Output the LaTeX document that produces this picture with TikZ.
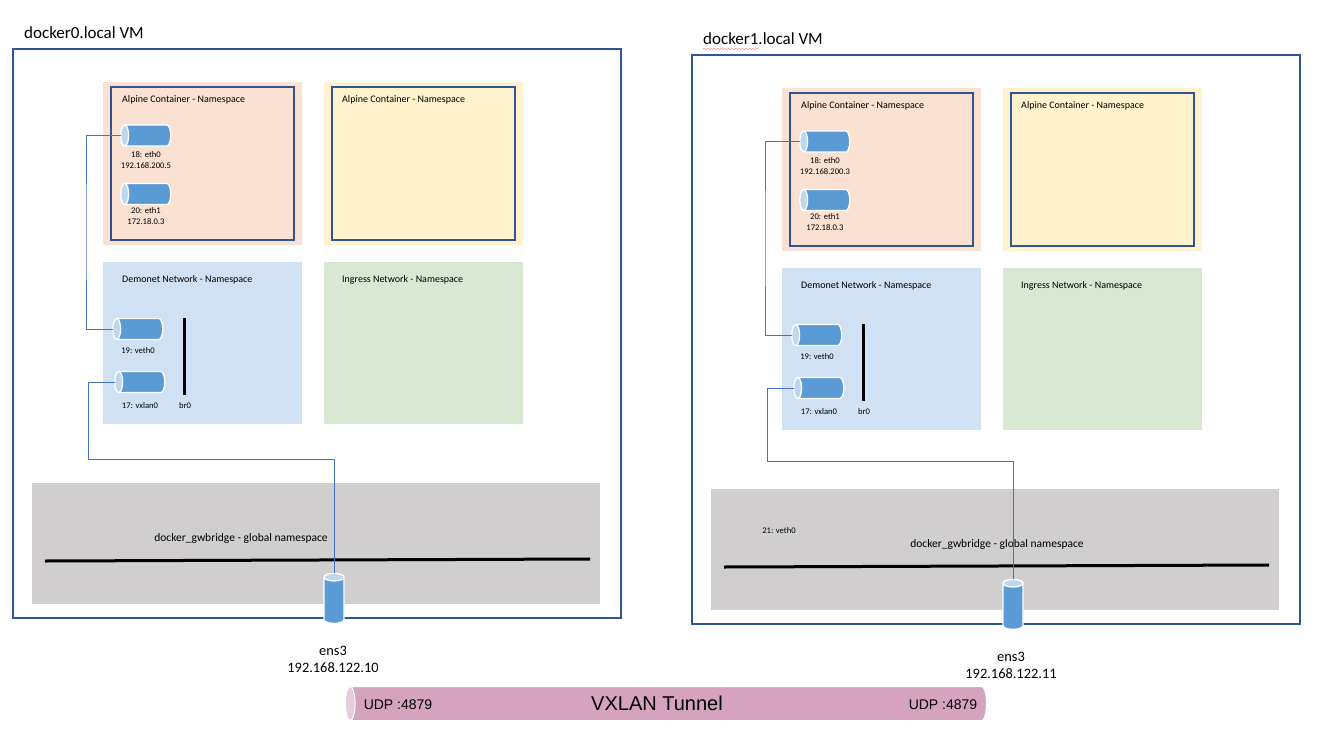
\documentclass[tikz,border=0pt]{standalone}
\usepackage{fontspec}
\setmainfont{Carlito}
\newfontfamily\arialfont{Liberation Sans}
\usetikzlibrary{positioning,shapes.geometric,decorations.pathmorphing}
\definecolor{vmline}{HTML}{2F5597}
\definecolor{wireblue}{HTML}{4472C4}
\definecolor{pipeblue}{HTML}{5B9BD5}
\definecolor{pipeend}{HTML}{BDD7EE}
\definecolor{salmonbox}{HTML}{FBE1D1}
\definecolor{yellowbox}{HTML}{FFF2CC}
\definecolor{bluebox}{HTML}{CFE1F3}
\definecolor{greenbox}{HTML}{D8E8D2}
\definecolor{graybox}{HTML}{D0CECE}
\definecolor{tunnelpink}{HTML}{D5A3BD}
\definecolor{tunnelend}{HTML}{E8CCDC}
\tikzset{
  vmbox/.style={draw=vmline,line width=1.1pt},
  innerbox/.style={draw=vmline,line width=1.1pt,anchor=north west,inner sep=0pt,outer sep=0pt,minimum width=183,minimum height=153},
  pipe/.style={cylinder,shape border rotate=180,shape aspect=0.4,draw=white,line width=1.3pt,cylinder uses custom fill,
    cylinder body fill=pipeblue,cylinder end fill=pipeend,minimum height=50,minimum width=21,inner sep=9.8pt,outer sep=0pt},
  pipeup/.style={pipe,shape border rotate=90,minimum height=50,minimum width=20,inner sep=9.4pt},
  wire/.style={draw=wireblue,line width=1pt},
  bar/.style={draw=black,line width=3pt},
  small/.style={font=\fontsize{8.6}{10}\selectfont,inner sep=0pt},
  title/.style={font=\fontsize{10}{12}\selectfont,inner sep=0pt,anchor=west},
  mid/.style={font=\fontsize{14.4}{16}\selectfont,inner sep=0pt},
  udptxt/.style={font=\arialfont\fontsize{14}{16}\selectfont,inner sep=0pt},
}
\begin{document}
\begin{tikzpicture}[x=1pt,y=-1pt]
\useasboundingbox[fill=white] (0,0) rectangle (1317,736);
\foreach \vm/\dx/\dy/\vmname/\ethip/\gwx/\ensa/\ensb/\turny in
  {a/0/0/docker0/192.168.200.5/241/333/192.168.122.10/459,
   b/679/6/docker1/192.168.200.3/318/332/192.168.122.11/455}
{
 \begin{scope}[shift={(\dx,\dy)}]
  \node[title,font=\fontsize{17}{20}\selectfont] (\vm-name) at (24,32.5) {\vmname.local VM};
  \draw[vmbox] (13,49) rectangle (621,618);
  % namespaces
  \fill[salmonbox] (103,82) rectangle (302,245);
  \fill[yellowbox] (324,82) rectangle (523,245);
  \fill[bluebox] (103,262) rectangle (302,424);
  \fill[greenbox] (324,262) rectangle (523,424);
  \fill[graybox] (32,483) rectangle (600,604);
  \node[innerbox] (\vm-alpine) at (111,87) {};
  \node[innerbox] (\vm-alpinetwo) at (332,87) {};
  \node[title] at (122,99.5) (\vm-alpinetxt) {Alpine Container - Namespace};
  \node[title] at (342,99.5) (\vm-alpinetwotxt) {Alpine Container - Namespace};
  \node[title] at (122,279.5) (\vm-demotxt) {Demonet Network - Namespace};
  \node[title] at (342,279.5) (\vm-ingresstxt) {Ingress Network - Namespace};
  % interfaces
  \node[pipe] (\vm-eth0) at (150,135.5) {};
  \node[small] (\vm-eth0txt) at (146,155) {18: eth0};
  \node[small] (\vm-eth0ip) at (146,166) {\ethip};
  \node[pipe] (\vm-eth1) at (150,194) {};
  \node[small] (\vm-eth1txt) at (146,211) {20: eth1};
  \node[small] (\vm-eth1ip) at (146,221.5) {172.18.0.3};
  \node[pipe] (\vm-veth0) at (142,329) {};
  \node[small] (\vm-veth0txt) at (138,351) {19: veth0};
  \node[pipe] (\vm-vxlan) at (144,382) {};
  \node[small] (\vm-vxlantxt) at (140,406) {17: vxlan0};
  \coordinate (\vm-brtop) at (184.5,318);
  \coordinate (\vm-brbot) at (184.5,395);
  \draw[bar] (\vm-brtop) -- (\vm-brbot);
  \node[small] (\vm-brtxt) at (185,406) {br0};
  % bridge
  \coordinate (\vm-gwleft) at (45,561);
  \coordinate (\vm-gwright) at (590,559);
  \draw[bar] (\vm-gwleft) -- (\vm-gwright);
  \node[font=\fontsize{11.5}{14}\selectfont,inner sep=0pt] (\vm-gwtxt) at (\gwx,538) {docker\_gwbridge - global namespace};
  \node[pipeup] (\vm-ens) at (334,602.5) {};
  \node[mid] (\vm-enstxt) at (\ensa,651) {ens3};
  \node[mid] (\vm-ensip) at (\ensa,668) {\ensb};
  % wires
  \coordinate (\vm-upturn) at (86,232);
  \coordinate (\vm-lowturn) at (88.5,\turny);
  \draw[wire] (\vm-eth0.west) -| (\vm-upturn) |- (\vm-veth0.west);
  \draw[wire] (\vm-ens.north) |- (\vm-lowturn) |- (\vm-vxlan.west);
 \end{scope}
}
\node[small] (b-extra) at (779,531) {21: veth0};
\draw[red!55,line width=0.4pt,decorate,decoration={snake,amplitude=0.7,segment length=3.5}] (703,49) -- (758,49);
% tunnel
\node[cylinder,shape border rotate=180,shape aspect=0.3,cylinder uses custom fill,cylinder body fill=tunnelpink,
  cylinder end fill=tunnelend,draw=white,line width=1pt,minimum height=641,minimum width=34,inner sep=16pt] (tunnel) at (671,703.5) {};
\node[udptxt,font=\arialfont\fontsize{20}{22}\selectfont] (tunneltxt) at (657,703) {VXLAN Tunnel};
\node[udptxt] (udpa) at (398,705) {UDP :4879};
\node[udptxt] (udpb) at (943,705) {UDP :4879};
\end{tikzpicture}
\end{document}
